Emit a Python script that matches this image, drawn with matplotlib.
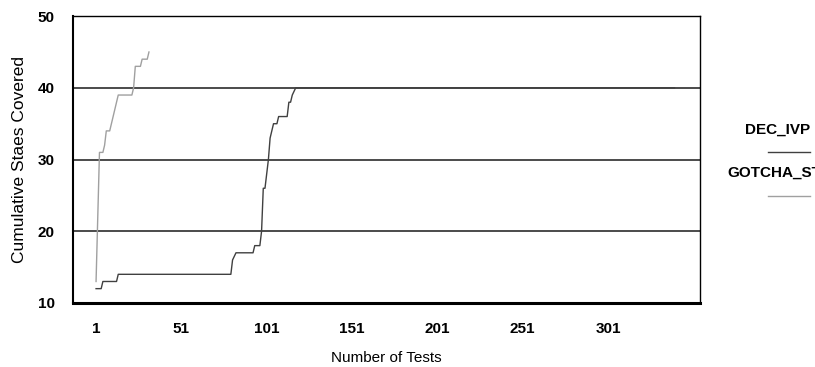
import matplotlib
matplotlib.use("Agg")
import matplotlib.pyplot as plt
from matplotlib.lines import Line2D

# DEC_IVP: change points (test number, states covered)
dec_tests = [1, 4, 5, 13, 14, 80, 81, 83, 93, 94, 97, 98, 99, 100, 102, 103,
             105, 107, 108, 113, 114, 115, 116, 118, 340]
dec_values = [12, 12, 13, 13, 14, 14, 16, 17, 17, 18, 18, 20, 26, 26, 30, 33,
              35, 35, 36, 36, 38, 38, 39, 40, 40]

# GOTCHA_STATE: one value per test
gotcha_values = [13, 22, 31, 31, 31, 32, 34, 34, 34, 35, 36, 37, 38, 39, 39, 39,
                 39, 39, 39, 39, 39, 39, 40, 43, 43, 43, 43, 44, 44, 44, 44, 45]
gotcha_tests = list(range(1, len(gotcha_values) + 1))

x_ticks = [1, 51, 101, 151, 201, 251, 301]
y_ticks = [10, 20, 30, 40, 50]

narrow = ['Liberation Sans Narrow', 'Liberation Sans', 'DejaVu Sans']
regular = ['Liberation Sans', 'DejaVu Sans']

fig = plt.figure(figsize=(8.15, 3.67), dpi=100)
ax = fig.add_axes([0.0896, 0.1744, 0.7694, 0.7816])

for y in [20, 30, 40]:
    ax.axhline(y, color='#1a1a1a', lw=1.1, zorder=1)

ax.plot(dec_tests, dec_values, color='#404040', lw=1.0, zorder=3)
ax.plot(gotcha_tests, gotcha_values, color='#a0a0a0', lw=1.0, zorder=3)

ax.set_xlim(-12.5, 355)
ax.set_ylim(10, 50)
ax.set_xticks(x_ticks)
ax.set_yticks(y_ticks)
ax.tick_params(axis='x', length=0, pad=13.5)
ax.tick_params(axis='y', length=0, pad=13)
for lab in ax.get_xticklabels() + ax.get_yticklabels():
    lab.set_family(narrow)
    lab.set_fontweight('bold')
    lab.set_fontsize(11)

for s in ax.spines.values():
    s.set_color('black')
    s.set_linewidth(1.0)
ax.spines['bottom'].set_linewidth(2.2)
ax.spines['left'].set_linewidth(1.5)

ax.set_xlabel('Number of Tests', family=narrow, fontsize=11, labelpad=11)
ax.set_ylabel('Cumulative Staes Covered', family=regular, fontsize=12.5, labelpad=8)

# legend drawn by hand at right edge
fig.text(778 / 815, 1 - 130 / 367, 'DEC_IVP', family=narrow, fontweight='bold',
         fontsize=11, ha='center', va='center')
fig.add_artist(Line2D([768 / 815, 810 / 815], [1 - 152 / 367, 1 - 152 / 367],
                      color='#404040', lw=1.0))
fig.text(727 / 815, 1 - 173 / 367, 'GOTCHA_STATE', family=narrow, fontweight='bold',
         fontsize=11, ha='left', va='center')
fig.add_artist(Line2D([768 / 815, 810 / 815], [1 - 196 / 367, 1 - 196 / 367],
                      color='#a0a0a0', lw=1.0))

fig.savefig('out.png', dpi=100)
